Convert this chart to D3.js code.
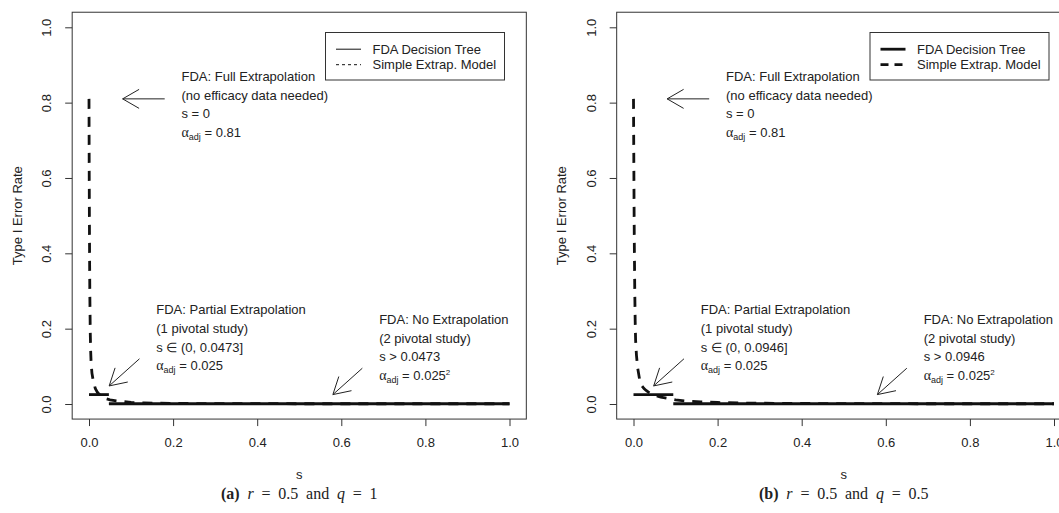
<!DOCTYPE html>
<html>
<head>
<meta charset="utf-8">
<script src="https://cdn.jsdelivr.net/npm/d3@7"></script>
<style>
  body { margin: 0; background: #fff; }
  text { font-family: "Liberation Sans", Arial, sans-serif; fill: #222; }
</style>
</head>
<body>
<div id="chart"></div>
<script>
// values
var sGrid = [0, 0.0005, 0.001, 0.0015, 0.002, 0.003, 0.004, 0.005, 0.007, 0.01, 0.015, 0.02, 0.025, 0.03,
             0.04, 0.05, 0.065, 0.08, 0.1, 0.13, 0.16, 0.2, 0.25, 0.3, 0.4, 0.5, 0.6, 0.7, 0.8, 0.9, 1];
// Simple Extrap. Model, panel (a) r = 0.5, q = 1
var simpleA = [0.81, 0.62, 0.48, 0.37, 0.29, 0.19, 0.14, 0.11, 0.082, 0.062, 0.041, 0.031, 0.025, 0.02,
               0.014, 0.011, 0.0085, 0.0065, 0.004, 0.0028, 0.0021, 0.0016, 0.0012, 0.001, 0.0008, 0.0007,
               0.00067, 0.00065, 0.00064, 0.00063, 0.000625];
// Simple Extrap. Model, panel (b) r = 0.5, q = 0.5
var simpleB = [0.81, 0.7, 0.6, 0.5, 0.42, 0.3, 0.22, 0.17, 0.13, 0.095, 0.062, 0.048, 0.041, 0.036,
               0.028, 0.023, 0.018, 0.015, 0.011, 0.0075, 0.0055, 0.004, 0.0028, 0.0021, 0.0014, 0.001,
               0.0008, 0.0007, 0.00066, 0.00064, 0.000625];
// FDA decision tree
var cutoffs = [0.0473, 0.0946];
var alphaFull = 0.81;
var alphaPartial = 0.025;
var alphaNone = 0.000625;

var xTicks = [0, 0.2, 0.4, 0.6, 0.8, 1.0];
var yTicks = [0, 0.2, 0.4, 0.6, 0.8, 1.0];
var panelLetters = ["a", "b"];
var qValues = ["1", "0.5"];
var legendLabels = ["FDA Decision Tree", "Simple Extrap. Model"];

var W = 1059, H = 513;
var panelShift = 544.5;

var svg = d3.select("#chart").append("svg")
    .attr("width", W)
    .attr("height", H);

svg.append("rect").attr("width", W).attr("height", H).attr("fill", "#fff");

// scales (R style: 4% padding around the data range)
var x = d3.scaleLinear().domain([0, 1]).range([89, 509.5]);
var y = d3.scaleLinear().domain([0, 1]).range([404, 27.3]);

var line = d3.line()
    .x(function(d) { return x(d.s); })
    .y(function(d) { return y(d.v); });

function arrow(g, x0, y0, x1, y1) {
    var px0 = x(x0), py0 = y(y0), px1 = x(x1), py1 = y(y1);
    var ang = Math.atan2(py0 - py1, px0 - px1);
    var len = 19, spread = Math.PI / 6;
    g.append("line").attr("x1", px0).attr("y1", py0).attr("x2", px1).attr("y2", py1);
    [-spread, spread].forEach(function(a) {
        g.append("line")
            .attr("x1", px1).attr("y1", py1)
            .attr("x2", px1 + len * Math.cos(ang + a))
            .attr("y2", py1 + len * Math.sin(ang + a));
    });
}

function alphaLine(g, sx, sy, value, sq) {
    var t = g.append("text").attr("x", x(sx)).attr("y", y(sy)).attr("dy", "0.35em");
    t.append("tspan").style("font-family", "'Liberation Serif', serif").style("font-size", "14px").text("\u03b1");
    t.append("tspan").attr("dy", 3).style("font-size", "9px").text("adj");
    t.append("tspan").attr("dy", -3).text(" = " + value);
    if (sq) t.append("tspan").attr("dy", -5).style("font-size", "8px").text("2");
}

function drawPanel(i) {
    var simple = i === 0 ? simpleA : simpleB;
    var cut = cutoffs[i];
    var legendLwd = i === 0 ? 1 : 2.8;
    var g = svg.append("g").attr("transform", "translate(" + (i * panelShift) + ",0)");

    // plot box
    g.append("rect")
        .attr("x", x(-0.04)).attr("y", y(1.04))
        .attr("width", x(1.04) - x(-0.04))
        .attr("height", y(-0.04) - y(1.04))
        .attr("fill", "none").attr("stroke", "#333").attr("stroke-width", 1);

    // x axis
    var gx = g.append("g")
        .attr("transform", "translate(0," + y(-0.04) + ")")
        .call(d3.axisBottom(x).tickValues(xTicks).tickFormat(d3.format(".1f")).tickSize(7).tickPadding(12));
    gx.select(".domain").remove();
    gx.selectAll("line").attr("stroke", "#333");
    gx.selectAll("text").style("font-size", "13px").attr("fill", "#222")
        .style("font-family", "'Liberation Sans', Arial, sans-serif");

    // y axis, labels turned like R's las = 0
    var gy = g.append("g")
        .attr("transform", "translate(" + x(-0.04) + ",0)")
        .call(d3.axisLeft(y).tickValues(yTicks).tickFormat(d3.format(".1f")).tickSize(7));
    gy.select(".domain").remove();
    gy.selectAll("line").attr("stroke", "#333");
    gy.selectAll("text")
        .style("font-size", "13px").attr("fill", "#222")
        .style("font-family", "'Liberation Sans', Arial, sans-serif")
        .attr("x", null).attr("dy", "0.35em")
        .attr("text-anchor", "middle")
        .attr("transform", "translate(-25.5,0) rotate(-90)");

    // axis titles
    g.append("text")
        .attr("x", (x(-0.04) + x(1.04)) / 2).attr("y", 479)
        .attr("text-anchor", "middle").style("font-size", "13px").text("s");
    g.append("text")
        .attr("transform", "translate(17," + ((y(-0.04) + y(1.04)) / 2) + ") rotate(-90)")
        .attr("dy", "0.35em")
        .attr("text-anchor", "middle").style("font-size", "13px").text("Type I Error Rate");

    // FDA decision tree (solid)
    var tree = [
        [{s: 0, v: alphaPartial}, {s: cut, v: alphaPartial}],
        [{s: cut, v: alphaNone}, {s: 1, v: alphaNone}]
    ];
    g.selectAll(".tree").data(tree).enter().append("path")
        .attr("class", "tree")
        .attr("d", line)
        .attr("fill", "none").attr("stroke", "#111").attr("stroke-width", 2.8);

    // simple extrapolation model (dashed)
    var curve = sGrid.map(function(s, k) { return {s: s, v: simple[k]}; });
    g.append("path").datum(curve)
        .attr("d", line)
        .attr("fill", "none").attr("stroke", "#111").attr("stroke-width", 2.8)
        .attr("stroke-dasharray", "10,8");

    // annotations
    var ann = g.append("g").style("font-size", "13px");
    var arrows = g.append("g").attr("stroke", "#222").attr("stroke-width", 1);
    var cutTxt = cut.toString();

    ann.append("text").attr("x", x(0.22)).attr("y", y(0.87)).attr("dy", "0.35em").text("FDA: Full Extrapolation");
    ann.append("text").attr("x", x(0.22)).attr("y", y(0.82)).attr("dy", "0.35em").text("(no efficacy data needed)");
    ann.append("text").attr("x", x(0.22)).attr("y", y(0.77)).attr("dy", "0.35em").text("s = 0");
    alphaLine(ann, 0.22, 0.722, alphaFull, false);
    arrow(arrows, 0.18, alphaFull, 0.08, alphaFull);

    ann.append("text").attr("x", x(0.16)).attr("y", y(0.25)).attr("dy", "0.35em").text("FDA: Partial Extrapolation");
    ann.append("text").attr("x", x(0.16)).attr("y", y(0.20)).attr("dy", "0.35em").text("(1 pivotal study)");
    ann.append("text").attr("x", x(0.16)).attr("y", y(0.15)).attr("dy", "0.35em").text("s \u2208 (0, " + cutTxt + "]");
    alphaLine(ann, 0.16, 0.102, alphaPartial, false);
    arrow(arrows, 0.12, 0.12, 0.048, 0.048);

    ann.append("text").attr("x", x(0.69)).attr("y", y(0.225)).attr("dy", "0.35em").text("FDA: No Extrapolation");
    ann.append("text").attr("x", x(0.69)).attr("y", y(0.175)).attr("dy", "0.35em").text("(2 pivotal study)");
    ann.append("text").attr("x", x(0.69)).attr("y", y(0.125)).attr("dy", "0.35em").text("s > " + cutTxt);
    alphaLine(ann, 0.69, 0.077, alphaPartial, true);
    arrow(arrows, 0.65, 0.095, 0.58, 0.025);

    // legend
    var lg = g.append("g");
    lg.append("rect")
        .attr("x", 325.5).attr("y", 32.5).attr("width", 179).attr("height", 47.5)
        .attr("fill", "#fff").attr("stroke", "#333").attr("stroke-width", 1);
    legendLabels.forEach(function(lab, k) {
        var ly = 49.2 + k * 15.5;
        lg.append("line")
            .attr("x1", 336).attr("x2", 361).attr("y1", ly).attr("y2", ly)
            .attr("stroke", "#111").attr("stroke-width", legendLwd)
            .attr("stroke-dasharray", k === 1 ? (i === 0 ? "3,3" : "8,6") : null);
        lg.append("text").attr("x", 372.5).attr("y", ly).attr("dy", "0.35em")
            .style("font-size", "13px").text(lab);
    });

    // caption
    var cap = g.append("text")
        .attr("x", (x(-0.04) + x(1.04)) / 2).attr("y", 499)
        .attr("text-anchor", "middle")
        .style("font-family", "'Liberation Serif', 'Times New Roman', serif")
        .style("font-size", "16px").style("word-spacing", "3.8px")
        .attr("fill", "#111");
    cap.append("tspan").style("font-weight", "bold").text("(" + panelLetters[i] + ")");
    cap.append("tspan").text(" ");
    cap.append("tspan").style("font-style", "italic").text("r");
    cap.append("tspan").text(" = 0.5 and ");
    cap.append("tspan").style("font-style", "italic").text("q");
    cap.append("tspan").text(" = " + qValues[i]);
}

drawPanel(0);
drawPanel(1);
</script>
</body>
</html>
